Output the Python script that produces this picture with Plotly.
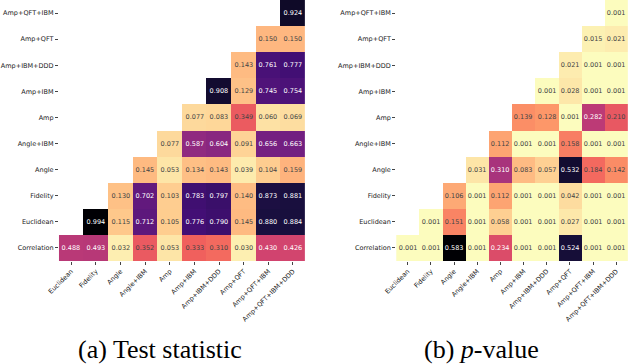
import plotly.graph_objects as go

# Column / row labels of the pairwise comparison grid
x_labels = ["Euclidean", "Fidelity", "Angle", "Angle+IBM", "Amp", "Amp+IBM",
            "Amp+IBM+DDD", "Amp+QFT", "Amp+QFT+IBM", "Amp+QFT+IBM+DDD"]
y_labels = ["Correlation", "Euclidean", "Fidelity", "Angle", "Angle+IBM", "Amp",
            "Amp+IBM", "Amp+IBM+DDD", "Amp+QFT", "Amp+QFT+IBM"]

N = None

# (a) test statistic, rows bottom -> top
stat_correlation = [0.488, 0.493, 0.032, 0.352, 0.053, 0.333, 0.310, 0.030, 0.430, 0.426]
stat_euclidean = [N, 0.994, 0.115, 0.712, 0.105, 0.776, 0.790, 0.145, 0.880, 0.884]
stat_fidelity = [N, N, 0.130, 0.702, 0.103, 0.783, 0.797, 0.140, 0.873, 0.881]
stat_angle = [N, N, N, 0.145, 0.053, 0.134, 0.143, 0.039, 0.104, 0.159]
stat_angle_ibm = [N, N, N, N, 0.077, 0.587, 0.604, 0.091, 0.656, 0.663]
stat_amp = [N, N, N, N, N, 0.077, 0.083, 0.349, 0.060, 0.069]
stat_amp_ibm = [N, N, N, N, N, N, 0.908, 0.129, 0.745, 0.754]
stat_amp_ibm_ddd = [N, N, N, N, N, N, N, 0.143, 0.761, 0.777]
stat_amp_qft = [N, N, N, N, N, N, N, N, 0.150, 0.150]
stat_amp_qft_ibm = [N, N, N, N, N, N, N, N, N, 0.924]

# (b) p-value, rows bottom -> top
p_correlation = [0.001, 0.001, 0.583, 0.001, 0.234, 0.001, 0.001, 0.524, 0.001, 0.001]
p_euclidean = [N, 0.001, 0.151, 0.001, 0.058, 0.001, 0.001, 0.027, 0.001, 0.001]
p_fidelity = [N, N, 0.106, 0.001, 0.112, 0.001, 0.001, 0.042, 0.001, 0.001]
p_angle = [N, N, N, 0.031, 0.310, 0.083, 0.057, 0.532, 0.184, 0.142]
p_angle_ibm = [N, N, N, N, 0.112, 0.001, 0.001, 0.158, 0.001, 0.001]
p_amp = [N, N, N, N, N, 0.139, 0.128, 0.001, 0.282, 0.210]
p_amp_ibm = [N, N, N, N, N, N, 0.001, 0.028, 0.001, 0.001]
p_amp_ibm_ddd = [N, N, N, N, N, N, N, 0.021, 0.001, 0.001]
p_amp_qft = [N, N, N, N, N, N, N, N, 0.015, 0.021]
p_amp_qft_ibm = [N, N, N, N, N, N, N, N, N, 0.001]

stat_rows = [stat_correlation, stat_euclidean, stat_fidelity, stat_angle, stat_angle_ibm,
             stat_amp, stat_amp_ibm, stat_amp_ibm_ddd, stat_amp_qft, stat_amp_qft_ibm]
p_rows = [p_correlation, p_euclidean, p_fidelity, p_angle, p_angle_ibm,
          p_amp, p_amp_ibm, p_amp_ibm_ddd, p_amp_qft, p_amp_qft_ibm]


def cell_text(rows):
    return [["" if v is None else f"{v:.3f}" for v in r] for r in rows]


def max_val(rows):
    return max(v for r in rows for v in r if v is not None)


fig = go.Figure()
for i, rows in enumerate([stat_rows, p_rows]):
    suffix = "" if i == 0 else "2"
    fig.add_trace(go.Heatmap(
        z=rows,
        x=x_labels,
        y=y_labels,
        text=cell_text(rows),
        texttemplate="%{text}",
        textfont=dict(size=6.5, family="DejaVu Sans"),
        colorscale="Magma",
        reversescale=True,
        zmin=0,
        zmax=max_val(rows),
        showscale=False,
        hoverongaps=False,
        xaxis="x" + suffix,
        yaxis="y" + suffix,
    ))

axis_style = dict(
    type="category",
    showgrid=False,
    zeroline=False,
    showline=False,
    ticks="outside",
    ticklen=3,
    tickwidth=0.8,
    tickcolor="#444",
    tickfont=dict(size=6.5, family="DejaVu Sans", color="#222"),
    automargin=False,
)

caption_font = dict(size=26, family="Liberation Serif", color="black")

fig.update_layout(
    width=640,
    height=364,
    margin=dict(l=0, r=0, t=0, b=0),
    paper_bgcolor="white",
    plot_bgcolor="white",
    xaxis=dict(axis_style, domain=[0.092, 0.477], tickangle=-45, anchor="y"),
    yaxis=dict(axis_style, domain=[0.283, 1.0], anchor="x"),
    xaxis2=dict(axis_style, domain=[0.619, 0.981], tickangle=-45, anchor="y2"),
    yaxis2=dict(axis_style, domain=[0.283, 1.0], anchor="x2"),
    annotations=[
        dict(text="(a) Test statistic", x=0.25, y=0.04, xref="paper", yref="paper",
             xanchor="center", yanchor="middle", showarrow=False, font=caption_font),
        dict(text="(b) <i>p</i>-value", x=0.753, y=0.04, xref="paper", yref="paper",
             xanchor="center", yanchor="middle", showarrow=False, font=caption_font),
    ],
)

# drop the default page margin so the figure sits at the window's corner
fig.write_html("out.html", config={"displayModeBar": False},
               post_script="document.body.style.margin='0';")
